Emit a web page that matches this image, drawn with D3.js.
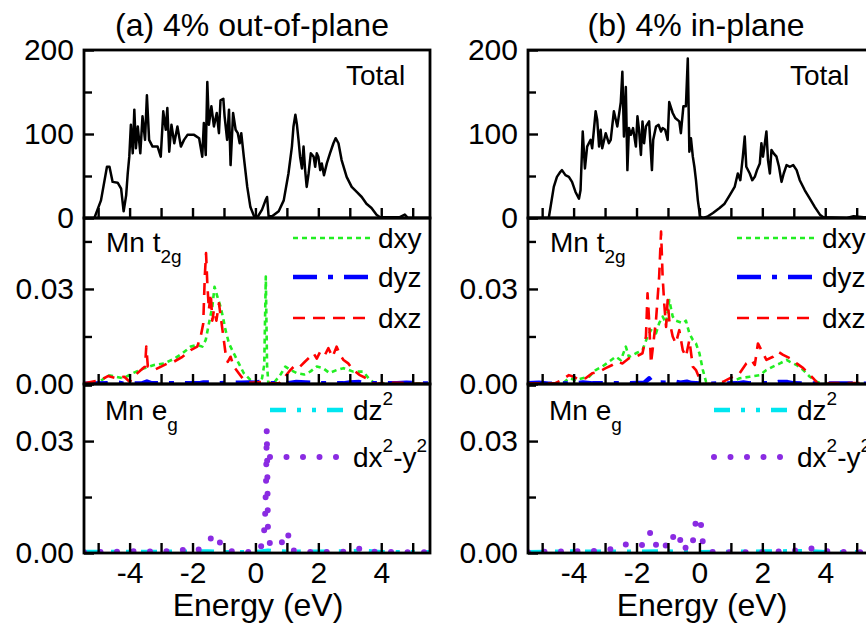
<!DOCTYPE html>
<html>
<head>
<meta charset="utf-8">
<script src="https://cdn.jsdelivr.net/npm/d3@7"></script>
<style>
  html, body { margin: 0; padding: 0; background: #fff; }
  svg { display: block; font-family: "Liberation Sans", Arial, sans-serif; }
</style>
</head>
<body>
<svg id="chart" width="866" height="629"></svg>
<script>
// Energy axis and tick values
const energyDomain = [-5.45, 5.55];
const energyMajorTicks = [-4, -2, 0, 2, 4];
const energyMinorTicks = [-5, -3, -1, 1, 3, 5];
const totalTicks = [0, 100, 200];
const totalMinorTicks = [50, 150];
const pdosTicks = [0, 0.03];
const pdosMinorTicks = [0.015, 0.045];

const columnTitles = ["(a) 4% out-of-plane", "(b) 4% in-plane"];

// Total DOS, [energy (eV), states]
const totalOutOfPlane = [[-5.45,0],[-5.12,0],[-4.91,21],[-4.72,61],[-4.64,61],[-4.54,43],[-4.38,42],[-4.27,35],[-4.19,8],[-4.11,27],[-4.06,53],[-4.01,73],[-3.96,111],[-3.90,77],[-3.85,129],[-3.80,83],[-3.74,109],[-3.66,77],[-3.59,121],[-3.51,93],[-3.45,146],[-3.38,93],[-3.27,85],[-3.11,85],[-3.01,73],[-2.93,127],[-2.85,105],[-2.80,131],[-2.74,79],[-2.67,111],[-2.58,89],[-2.48,109],[-2.37,85],[-2.27,93],[-2.16,99],[-1.95,99],[-1.79,95],[-1.69,73],[-1.64,113],[-1.58,75],[-1.53,162],[-1.48,111],[-1.40,133],[-1.32,109],[-1.23,125],[-1.16,101],[-1.11,140],[-1.02,142],[-0.98,121],[-0.90,93],[-0.84,129],[-0.79,63],[-0.71,125],[-0.63,105],[-0.56,101],[-0.50,89],[-0.45,101],[-0.37,73],[-0.26,37],[-0.16,13],[-0.03,1],[0.05,0],[0.21,10],[0.32,21],[0.37,25],[0.42,2],[0.53,2],[0.74,8],[0.90,21],[1.05,53],[1.16,85],[1.21,109],[1.27,123],[1.32,111],[1.37,93],[1.42,73],[1.48,59],[1.53,85],[1.58,57],[1.63,37],[1.69,53],[1.76,77],[1.85,73],[1.90,61],[1.95,77],[2.00,73],[2.06,57],[2.11,65],[2.18,51],[2.27,65],[2.37,77],[2.48,89],[2.55,95],[2.64,89],[2.74,69],[2.90,49],[3.06,37],[3.22,31],[3.38,25],[3.53,17],[3.69,12],[3.85,4],[3.96,1],[4.59,1],[4.75,4],[4.85,0],[5.55,0]];

const totalInPlane = [[-5.45,0],[-4.79,0],[-4.63,37],[-4.53,49],[-4.42,55],[-4.37,57],[-4.26,51],[-4.15,49],[-4.05,43],[-3.94,31],[-3.83,23],[-3.78,33],[-3.71,103],[-3.64,59],[-3.57,85],[-3.46,93],[-3.41,83],[-3.30,127],[-3.25,117],[-3.19,85],[-3.14,105],[-3.09,83],[-2.98,101],[-2.88,89],[-2.82,93],[-2.72,127],[-2.61,109],[-2.50,138],[-2.45,174],[-2.40,97],[-2.34,156],[-2.29,57],[-2.24,107],[-2.18,99],[-2.11,107],[-2.02,85],[-1.97,121],[-1.92,105],[-1.86,75],[-1.81,115],[-1.76,89],[-1.70,109],[-1.60,115],[-1.51,57],[-1.47,93],[-1.38,109],[-1.30,111],[-1.22,103],[-1.17,107],[-1.09,105],[-1.01,93],[-0.96,138],[-0.85,125],[-0.77,119],[-0.64,115],[-0.59,101],[-0.51,133],[-0.43,133],[-0.37,190],[-0.32,79],[-0.27,95],[-0.21,73],[-0.16,61],[-0.11,45],[-0.05,21],[0.02,2],[0.11,0],[0.27,2],[0.43,6],[0.64,12],[0.80,17],[0.96,27],[1.12,37],[1.22,53],[1.30,45],[1.38,73],[1.44,97],[1.49,61],[1.60,53],[1.68,45],[1.76,49],[1.83,57],[1.92,65],[1.97,89],[2.02,73],[2.08,89],[2.13,103],[2.18,69],[2.24,53],[2.29,81],[2.36,77],[2.45,73],[2.53,61],[2.61,43],[2.68,53],[2.77,63],[2.88,61],[2.98,63],[3.09,57],[3.19,45],[3.35,33],[3.51,23],[3.67,13],[3.83,4],[3.94,1],[4.69,0],[4.90,2],[5.22,1],[5.55,0]];

// Mn t2g projected DOS
const dxyOutOfPlane = [[-5.45,0],[-5.0,0.0003],[-4.69,0.0028],[-4.43,0.0023],[-4.2,0.0018],[-3.9,0.0034],[-3.53,0.005],[-3.22,0.006],[-2.9,0.0065],[-2.58,0.008],[-2.32,0.0097],[-2.06,0.0118],[-1.85,0.0123],[-1.69,0.0118],[-1.58,0.0139],[-1.48,0.019],[-1.37,0.0244],[-1.30,0.0307],[-1.21,0.0276],[-1.11,0.0244],[-1.03,0.021],[-0.95,0.017],[-0.84,0.0128],[-0.69,0.0097],[-0.53,0.0065],[-0.37,0.0034],[-0.16,0.0013],[0.05,0.0002],[0.21,0.0018],[0.28,0.006],[0.33,0.0339],[0.37,0.006],[0.41,0.0002],[0.6,0.0005],[0.8,0.003],[0.95,0.0055],[1.1,0.0045],[1.32,0.0034],[1.55,0.003],[1.74,0.0039],[1.95,0.0055],[2.15,0.005],[2.35,0.0035],[2.58,0.0044],[2.8,0.005],[3.11,0.0039],[3.43,0.0039],[3.64,0.0013],[3.8,0.0002],[5.55,0.0001]];
const dyzOutOfPlane = [[-5.45,0.0001],[-4.7,0.0002],[-4.55,0.0006],[-4.4,0.0005],[-4.2,0.0001],[-3.6,0.0002],[-3.45,0.0008],[-3.3,0.0002],[-1.8,0.0002],[-1.65,0.0005],[-1.45,0.0005],[-1.3,0.0002],[-0.45,0.0004],[-0.2,0.0005],[0.0,0.0004],[0.3,0.0009],[0.5,0.0002],[1.1,0.0003],[1.3,0.0006],[1.6,0.0005],[1.9,0.0002],[2.8,0.0002],[3.0,0.0005],[3.3,0.0006],[3.5,0.0002],[4.5,0.0002],[4.8,0.0004],[5.55,0.0001]];
const dxzOutOfPlane = [[-5.45,0.0002],[-4.9,0.0013],[-4.69,0.0025],[-4.43,0.0018],[-4.17,0.0023],[-4.0,0.0007],[-3.8,0.003],[-3.64,0.0044],[-3.51,0.0055],[-3.47,0.0118],[-3.42,0.0055],[-3.2,0.0045],[-3.0,0.0055],[-2.8,0.0065],[-2.6,0.007],[-2.32,0.0086],[-2.06,0.0107],[-1.85,0.0118],[-1.74,0.015],[-1.66,0.019],[-1.61,0.0339],[-1.57,0.0413],[-1.53,0.0318],[-1.48,0.0234],[-1.42,0.0286],[-1.37,0.02],[-1.32,0.0234],[-1.24,0.02],[-1.16,0.0255],[-1.10,0.021],[-1.02,0.015],[-0.95,0.0097],[-0.88,0.007],[-0.79,0.0086],[-0.69,0.0055],[-0.53,0.0034],[-0.37,0.0013],[-0.16,0.0004],[0.26,0.0007],[0.5,0.0002],[0.75,0.0002],[0.9,0.0018],[1.11,0.0044],[1.27,0.006],[1.42,0.0055],[1.58,0.0071],[1.74,0.0086],[1.85,0.0097],[1.95,0.008],[2.06,0.0102],[2.2,0.009],[2.32,0.0113],[2.45,0.0085],[2.58,0.0118],[2.7,0.009],[2.8,0.0076],[2.95,0.0065],[3.11,0.0044],[3.32,0.0028],[3.53,0.0018],[3.69,0.0004],[3.8,0],[4.2,0.0004],[4.6,0.0004],[5.0,0.0001],[5.55,0.0001]];

const dxyInPlane = [[-5.45,0],[-4.37,0],[-4.15,0.0018],[-3.94,0.0013],[-3.72,0.0018],[-3.51,0.0023],[-3.3,0.0044],[-3.09,0.0055],[-2.88,0.007],[-2.66,0.0086],[-2.5,0.0075],[-2.34,0.0118],[-2.24,0.0085],[-2.02,0.0097],[-1.81,0.0107],[-1.65,0.015],[-1.54,0.017],[-1.38,0.016],[-1.28,0.0192],[-1.17,0.0213],[-1.06,0.0192],[-0.96,0.0265],[-0.85,0.0213],[-0.75,0.02],[-0.53,0.0192],[-0.43,0.02],[-0.32,0.016],[-0.21,0.0139],[-0.11,0.0128],[0.0,0.0097],[0.11,0.0044],[0.21,0.0007],[0.37,0],[0.64,0],[0.96,0.0004],[1.28,0.0018],[1.6,0.0023],[1.92,0.0028],[2.13,0.0044],[2.34,0.0055],[2.56,0.0065],[2.77,0.0076],[2.88,0.007],[3.09,0.006],[3.3,0.0044],[3.51,0.0023],[3.73,0.0007],[3.95,0],[5.55,0]];
const dyzInPlane = [[-5.45,0.0002],[-5.1,0.0004],[-4.8,0.0001],[-3.9,0.0002],[-3.7,0.0005],[-3.4,0.0002],[-2.5,0.0002],[-2.35,0.0006],[-2.2,0.0002],[-1.75,0.0004],[-1.6,0.0018],[-1.5,0.0005],[-1.0,0.0004],[-0.8,0.0008],[-0.6,0.0004],[-0.4,0.0007],[-0.25,0.0003],[0.2,0.0001],[1.2,0.0002],[1.4,0.0005],[1.6,0.0002],[2.3,0.0002],[2.5,0.0006],[2.8,0.0006],[3.0,0.0002],[5.55,0.0001]];
const dxzInPlane = [[-5.45,0.0002],[-4.6,0.0002],[-4.37,0.0013],[-4.15,0.0028],[-4.0,0.0023],[-3.83,0.0013],[-3.62,0.0018],[-3.41,0.0034],[-3.19,0.0039],[-2.98,0.005],[-2.77,0.006],[-2.61,0.007],[-2.45,0.0065],[-2.24,0.0081],[-2.02,0.0086],[-1.81,0.0097],[-1.7,0.015],[-1.65,0.0286],[-1.6,0.0202],[-1.54,0.0065],[-1.49,0.0107],[-1.38,0.0202],[-1.28,0.0339],[-1.22,0.0481],[-1.17,0.0339],[-1.12,0.0255],[-1.06,0.018],[-1.01,0.0265],[-0.96,0.0202],[-0.85,0.015],[-0.75,0.0128],[-0.64,0.017],[-0.53,0.0107],[-0.43,0.0086],[-0.32,0.0139],[-0.21,0.0055],[-0.11,0.0044],[0.0,0.0018],[0.11,0],[0.43,0],[0.75,0.0007],[0.96,0.0018],[1.28,0.0034],[1.49,0.0065],[1.65,0.0076],[1.76,0.006],[1.86,0.0128],[1.97,0.0107],[2.13,0.0076],[2.34,0.0086],[2.5,0.0102],[2.66,0.0092],[2.88,0.0081],[3.09,0.0065],[3.3,0.005],[3.46,0.0034],[3.62,0.0018],[3.78,0],[4.2,0.0003],[5.55,0.0003]];

// Mn eg projected DOS
const dz2OutOfPlane = [[-5.45,0.0003],[-4.0,0.0003],[-3.0,0.0003],[-1.5,0.0004],[-1.0,0.0002],[0.0,0.0002],[0.4,0.0006],[1.0,0.0003],[3.0,0.0004],[3.4,0.0006],[4.0,0.0002],[5.55,0.0002]];
const dx2y2OutOfPlane = [[-5.45,0.0002],[-4.5,0.0003],[-4.0,0.0005],[-3.5,0.0004],[-3.0,0.0005],[-2.5,0.0005],[-2.1,0.0012],[-1.85,0.0007],[-1.7,0.0016],[-1.55,0.0032],[-1.4,0.004],[-1.25,0.0045],[-1.15,0.0048],[-1.12,0.002],[-0.9,0.0006],[-0.5,0.0003],[0.1,0.0003],[0.22,0.0025],[0.3,0.0075],[0.34,0.02],[0.36,0.0331],[0.38,0.02],[0.40,0.0047],[0.47,0.0022],[0.7,0.0015],[0.82,0.0023],[0.95,0.0058],[1.08,0.0043],[1.2,0.0007],[1.5,0.0003],[2.5,0.0003],[3.1,0.0004],[3.38,0.0014],[3.6,0.0004],[4.5,0.0002],[5.55,0.0002]];
const dz2InPlane = [[-5.45,0.0002],[-4.2,0.0004],[-3.0,0.0003],[-1.0,0.0004],[0,0.0002],[1,0.0003],[3.5,0.0005],[4.0,0.0002],[5.55,0.0002]];
const dx2y2InPlane = [[-5.45,0.0002],[-5.0,0.0003],[-4.0,0.0005],[-3.5,0.0004],[-3.0,0.0009],[-2.6,0.0012],[-2.35,0.0023],[-2.1,0.0018],[-1.8,0.0022],[-1.65,0.0027],[-1.57,0.0054],[-1.5,0.002],[-1.33,0.0023],[-1.17,0.0038],[-1.05,0.0016],[-0.85,0.0047],[-0.75,0.002],[-0.65,0.0025],[-0.57,0.0045],[-0.48,0.0016],[-0.27,0.0007],[-0.16,0.0052],[-0.1,0.0097],[0.05,0.0076],[0.1,0.0032],[0.27,0.0003],[1.0,0.0002],[2.0,0.0002],[3.1,0.0007],[3.5,0.0012],[3.9,0.0012],[4.1,0.0003],[5.55,0.0002]];

// ---- drawing ----
const svg = d3.select("#chart");
const FONT = 30;
const TITLE_FONT = 32;
const plotWidth = 346;
const columnLeft = [84, 528];
const rows = [
  { top: 50,  bottom: 218, domain: [0, 200],     ticks: totalTicks, minor: totalMinorTicks, fmt: d => String(d) },
  { top: 218, bottom: 384, domain: [0, 0.0524],  ticks: pdosTicks,  minor: pdosMinorTicks,  fmt: d3.format(".2f") },
  { top: 384, bottom: 553, domain: [0, 0.0453],  ticks: pdosTicks,  minor: pdosMinorTicks,  fmt: d3.format(".2f") }
];

const styles = {
  total: { color: "#000000", width: 2.5, dash: null, cap: "butt" },
  dxy:   { color: "#22ee22", width: 2.6, dash: "5,4", cap: "butt" },
  dyz:   { color: "#0000ff", width: 4.5, dash: "24,11,5,11", cap: "butt" },
  dxz:   { color: "#ff0000", width: 2.6, dash: "12,8", cap: "butt" },
  dz2:   { color: "#00e6f0", width: 4.5, dash: "16,11,4,11,4,11", cap: "butt" },
  dx2y2: { color: "#8a2be2", width: 6, dash: "0,16.5", cap: "round" }
};

const columns = [
  { title: columnTitles[0], total: totalOutOfPlane, t2g: [["dxy", dxyOutOfPlane], ["dyz", dyzOutOfPlane], ["dxz", dxzOutOfPlane]], eg: [["dz2", dz2OutOfPlane], ["dx2y2", dx2y2OutOfPlane]] },
  { title: columnTitles[1], total: totalInPlane,    t2g: [["dxy", dxyInPlane], ["dyz", dyzInPlane], ["dxz", dxzInPlane]],          eg: [["dz2", dz2InPlane], ["dx2y2", dx2y2InPlane]] }
];

const defs = svg.append("defs");

function styleLine(sel, st) {
  sel.attr("fill", "none")
    .attr("stroke", st.color)
    .attr("stroke-width", st.width)
    .attr("stroke-linecap", st.cap)
    .attr("stroke-linejoin", "round");
  if (st.dash) sel.attr("stroke-dasharray", st.dash);
  return sel;
}

columns.forEach((col, ci) => {
  const left = columnLeft[ci];
  const x = d3.scaleLinear().domain(energyDomain).range([left, left + plotWidth]);
  const g = svg.append("g");

  rows.forEach((row, ri) => {
    const y = d3.scaleLinear().domain(row.domain).range([row.bottom, row.top]);
    const clipId = `clip-${ci}-${ri}`;
    defs.append("clipPath").attr("id", clipId)
      .append("rect").attr("x", left).attr("y", row.top)
      .attr("width", plotWidth).attr("height", row.bottom - row.top);

    const line = d3.line().x(d => x(d[0])).y(d => y(d[1]));
    const plot = g.append("g").attr("clip-path", `url(#${clipId})`);

    let series;
    if (ri === 0) series = [["total", col.total]];
    else if (ri === 1) series = col.t2g;
    else series = col.eg;
    series.forEach(([key, data]) => {
      styleLine(plot.append("path").datum(data).attr("d", line), styles[key]);
    });

    // y axis: ticks point inward, labels outside
    const yAxis = d3.axisLeft(y).tickValues(row.ticks).tickFormat(row.fmt)
      .tickSizeInner(-10).tickSizeOuter(0).tickPadding(10);
    const ya = g.append("g").attr("transform", `translate(${left},0)`).call(yAxis);
    ya.select(".domain").remove();
    ya.selectAll("line").attr("stroke", "#000").attr("stroke-width", 2.4);
    ya.selectAll("text").attr("font-size", FONT).attr("fill", "#000")
      .attr("font-family", "Liberation Sans, Arial, sans-serif");

    const yMinor = d3.axisLeft(y).tickValues(row.minor.filter(v => v < row.domain[1]))
      .tickFormat("").tickSizeInner(-8).tickSizeOuter(0);
    const ym = g.append("g").attr("transform", `translate(${left},0)`).call(yMinor);
    ym.select(".domain").remove();
    ym.selectAll("line").attr("stroke", "#000").attr("stroke-width", 2.4);

    // x axis on the bottom edge of every panel (hyphen-minus labels)
    const xAxis = d3.axisBottom(x).tickValues(energyMajorTicks)
      .tickFormat(ri === 2 ? (d => String(d)) : "")
      .tickSizeInner(-10).tickSizeOuter(0).tickPadding(9);
    const xa = g.append("g").attr("transform", `translate(0,${row.bottom})`).call(xAxis);
    xa.select(".domain").remove();
    xa.selectAll("line").attr("stroke", "#000").attr("stroke-width", 2.4);
    xa.selectAll("text").attr("font-size", FONT).attr("fill", "#000")
      .attr("font-family", "Liberation Sans, Arial, sans-serif");

    const xMinor = d3.axisBottom(x).tickValues(energyMinorTicks)
      .tickFormat("").tickSizeInner(-10).tickSizeOuter(0);
    const xm = g.append("g").attr("transform", `translate(0,${row.bottom})`).call(xMinor);
    xm.select(".domain").remove();
    xm.selectAll("line").attr("stroke", "#000").attr("stroke-width", 2.4);

    // frame
    g.append("rect").attr("x", left).attr("y", row.top)
      .attr("width", plotWidth).attr("height", row.bottom - row.top)
      .attr("fill", "none").attr("stroke", "#000").attr("stroke-width", 2.8);
  });

  // column title
  g.append("text").attr("x", left + 168).attr("y", 36)
    .attr("text-anchor", "middle").attr("font-size", TITLE_FONT).text(col.title);

  // x axis title
  g.append("text").attr("x", left + 174).attr("y", 616)
    .attr("text-anchor", "middle").attr("font-size", TITLE_FONT).text("Energy (eV)");

  // panel labels
  g.append("text").attr("x", left + 262).attr("y", 85).attr("font-size", 28).text("Total");

  const t2gLabel = g.append("text").attr("x", left + 22).attr("y", 252).attr("font-size", 28);
  t2gLabel.append("tspan").text("Mn t");
  t2gLabel.append("tspan").attr("dy", 11).attr("font-size", 19).text("2g");

  const egLabel = g.append("text").attr("x", left + 21).attr("y", 420).attr("font-size", 28);
  egLabel.append("tspan").text("Mn e");
  egLabel.append("tspan").attr("dy", 11).attr("font-size", 19).text("g");

  // t2g legend
  const t2gLegend = [["dxy", "dxy", 248], ["dyz", "dyz", 287], ["dxz", "dxz", 328]];
  t2gLegend.forEach(([key, label, base]) => {
    styleLine(g.append("line")
      .attr("x1", left + 209).attr("x2", left + 288)
      .attr("y1", base - 10).attr("y2", base - 10), styles[key]);
    g.append("text").attr("x", left + 294).attr("y", base).attr("font-size", 28).text(label);
  });

  // eg legend
  const egLegend = [["dz2", 420], ["dx2y2", 467]];
  egLegend.forEach(([key, base]) => {
    styleLine(g.append("line")
      .attr("x1", left + 186).attr("x2", left + 262)
      .attr("y1", base - 10).attr("y2", base - 10), styles[key]);
    const t = g.append("text").attr("x", left + 269).attr("y", base).attr("font-size", 28);
    if (key === "dz2") {
      t.append("tspan").text("dz");
      t.append("tspan").attr("dy", -15).attr("font-size", 19).text("2");
    } else {
      t.append("tspan").text("dx");
      t.append("tspan").attr("dy", -15).attr("font-size", 19).text("2");
      t.append("tspan").attr("dy", 15).text("-y");
      t.append("tspan").attr("dy", -15).attr("font-size", 19).text("2");
    }
  });
});
</script>
</body>
</html>
